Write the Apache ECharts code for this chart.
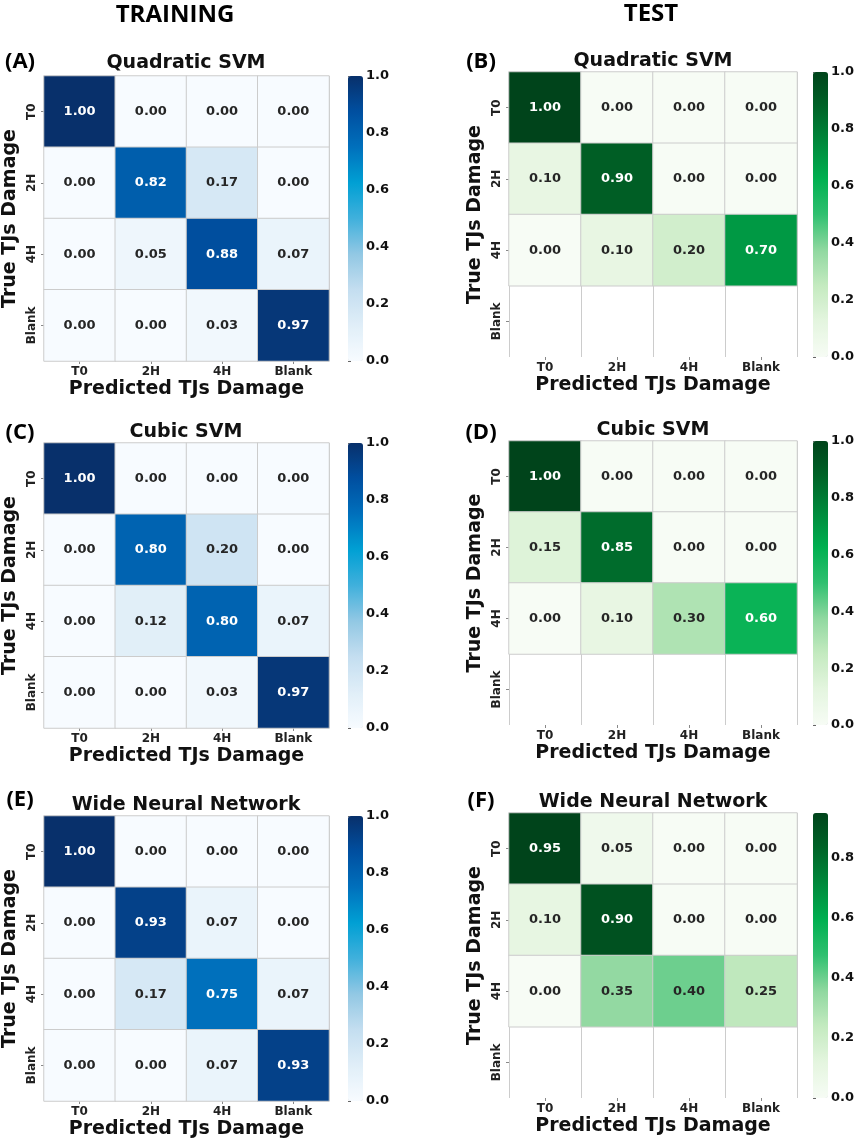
<!DOCTYPE html>
<html>
<head>
<meta charset="utf-8">
<script src="https://cdn.jsdelivr.net/npm/echarts@6/dist/echarts.min.js"></script>
<style>
  html, body { margin: 0; padding: 0; background: #fff; }
  #chart { width: 858px; height: 1143px; }
</style>
</head>
<body>
<div id="chart"></div>
<script>
// class labels and colorbar ticks
const classes = ["T0", "2H", "4H", "Blank"];
const barTicks = [0, 0.2, 0.4, 0.6, 0.8, 1.0];
const barTicksF = [0, 0.2, 0.4, 0.6, 0.8];

// confusion matrices, rows = true class, cols = predicted class
const trainQuadratic = [
  [1.00, 0.00, 0.00, 0.00],
  [0.00, 0.82, 0.17, 0.00],
  [0.00, 0.05, 0.88, 0.07],
  [0.00, 0.00, 0.03, 0.97],
];
const testQuadratic = [
  [1.00, 0.00, 0.00, 0.00],
  [0.10, 0.90, 0.00, 0.00],
  [0.00, 0.10, 0.20, 0.70],
];
const trainCubic = [
  [1.00, 0.00, 0.00, 0.00],
  [0.00, 0.80, 0.20, 0.00],
  [0.00, 0.12, 0.80, 0.07],
  [0.00, 0.00, 0.03, 0.97],
];
const testCubic = [
  [1.00, 0.00, 0.00, 0.00],
  [0.15, 0.85, 0.00, 0.00],
  [0.00, 0.10, 0.30, 0.60],
];
const trainWide = [
  [1.00, 0.00, 0.00, 0.00],
  [0.00, 0.93, 0.07, 0.00],
  [0.00, 0.17, 0.75, 0.07],
  [0.00, 0.00, 0.07, 0.93],
];
const testWide = [
  [0.95, 0.05, 0.00, 0.00],
  [0.10, 0.90, 0.00, 0.00],
  [0.00, 0.35, 0.40, 0.25],
];

const blues = ["#f7fbff", "#e0eef8", "#c4def0", "#92c8e4", "#40b0dc", "#00a0d4", "#0070bc", "#004fa0", "#08306b"];
const greens = ["#f7fcf5", "#e4f5df", "#c4eac0", "#90d8a0", "#30c070", "#00b050", "#008a3c", "#006428", "#00441b"];

const FONT = "DejaVu Sans";

const panels = [
  { tag: "(A)", title: "Quadratic SVM", values: trainQuadratic, max: 1, ticks: barTicks, colors: blues,
    box: [43, 76, 286, 285], bar: 348, titleY: 63, tagX: 20, tagY: 62 },
  { tag: "(B)", title: "Quadratic SVM", values: testQuadratic, max: 1, ticks: barTicks, colors: greens,
    box: [509, 72, 288, 285], bar: 813, titleY: 61, tagX: 481, tagY: 62 },
  { tag: "(C)", title: "Cubic SVM", values: trainCubic, max: 1, ticks: barTicks, colors: blues,
    box: [43, 443, 286, 285], bar: 348, titleY: 432, tagX: 20, tagY: 433 },
  { tag: "(D)", title: "Cubic SVM", values: testCubic, max: 1, ticks: barTicks, colors: greens,
    box: [509, 441, 288, 284], bar: 813, titleY: 430, tagX: 481, tagY: 433 },
  { tag: "(E)", title: "Wide Neural Network", values: trainWide, max: 1, ticks: barTicks, colors: blues,
    box: [43, 816, 286, 285], bar: 348, titleY: 805, tagX: 20, tagY: 800 },
  { tag: "(F)", title: "Wide Neural Network", values: testWide, max: 0.95, ticks: barTicksF, colors: greens,
    box: [509, 813, 288, 285], bar: 813, titleY: 802, tagX: 481, tagY: 801 },
];

const grid = [];
const xAxis = [];
const yAxis = [];
const series = [];
const visualMap = [];
const graphic = [
  { type: "text", x: 175, y: 15, style: { text: "TRAINING", font: "bold 24px 'Open Sans'", fill: "#000", textAlign: "center", textVerticalAlign: "middle" } },
  { type: "text", x: 651, y: 14, style: { text: "TEST", font: "bold 24px 'Open Sans'", fill: "#000", textAlign: "center", textVerticalAlign: "middle" } },
];

panels.forEach((p, i) => {
  const [left, top, width, height] = p.box;

  // heatmap grid
  grid.push({ left, top, width, height });
  xAxis.push({
    type: "category", gridIndex: i * 2, data: classes, position: "bottom",
    axisLine: { show: false },
    axisTick: { show: true, alignWithLabel: true, length: 3, lineStyle: { color: "#888" } },
    axisLabel: { margin: 5, fontFamily: FONT, fontWeight: "bold", fontSize: 12, color: "#222" },
    splitLine: { show: true, interval: 0, lineStyle: { color: "#cccccc", width: 1 } },
    name: "Predicted TJs Damage", nameLocation: "middle", nameGap: 19,
    nameTextStyle: { fontFamily: FONT, fontWeight: "bold", fontSize: 19, color: "#111" },
  });
  yAxis.push({
    type: "category", gridIndex: i * 2, data: classes, inverse: true,
    axisLine: { show: false },
    axisTick: { show: true, alignWithLabel: true, length: 3, lineStyle: { color: "#888" } },
    axisLabel: { rotate: 90, margin: 6, fontFamily: FONT, fontWeight: "bold", fontSize: 12, color: "#222" },
    splitLine: { show: false },
    name: "True TJs Damage", nameLocation: "middle", nameGap: 24, nameRotate: 90,
    nameTextStyle: { fontFamily: FONT, fontWeight: "bold", fontSize: 19, color: "#111" },
  });

  const cells = [];
  p.values.forEach((row, r) => {
    row.forEach((v, c) => {
      cells.push({
        value: [c, r, v],
        label: { color: v / p.max > 0.5 ? "#ffffff" : "#262626" },
      });
    });
  });
  series.push({
    type: "heatmap", xAxisIndex: i * 2, yAxisIndex: i * 2, data: cells,
    itemStyle: { borderColor: "#cccccc", borderWidth: 1 },
    label: {
      show: true, fontFamily: FONT, fontWeight: "bold", fontSize: 13,
      formatter: (d) => d.value[2].toFixed(2),
    },
    emphasis: { disabled: true },
  });

  visualMap.push({
    type: "continuous", seriesIndex: i, min: 0, max: p.max, dimension: 2,
    left: p.bar, top, itemWidth: 15, itemHeight: height, padding: 0,
    calculable: false, hoverLink: false, text: null, showLabel: false,
    inRange: { color: p.colors },
  });

  // colorbar tick axis
  grid.push({ left: p.bar, top, width: 15, height });
  xAxis.push({ type: "value", gridIndex: i * 2 + 1, show: false, min: 0, max: 1 });
  yAxis.push({
    type: "value", gridIndex: i * 2 + 1, position: "right", min: 0, max: p.max,
    axisLine: { show: false },
    axisTick: { show: true, length: 3, lineStyle: { color: "#666" }, customValues: p.ticks },
    axisLabel: { margin: 3, fontFamily: FONT, fontWeight: "bold", fontSize: 13, color: "#111",
      customValues: p.ticks, formatter: (v) => v.toFixed(1) },
    splitLine: { show: false },
  });

  graphic.push({ type: "text", x: left + width / 2, y: p.titleY,
    style: { text: p.title, font: `bold 19px '${FONT}'`, fill: "#111", textAlign: "center", textVerticalAlign: "middle" } });
  graphic.push({ type: "text", x: p.tagX, y: p.tagY,
    style: { text: p.tag, font: "bold 22px 'Open Sans'", fill: "#000", textAlign: "center", textVerticalAlign: "middle" } });
});

const chart = echarts.init(document.getElementById("chart"));
chart.setOption({
  animation: false,
  backgroundColor: "#fff",
  grid, xAxis, yAxis, series, visualMap, graphic,
});
</script>
</body>
</html>
